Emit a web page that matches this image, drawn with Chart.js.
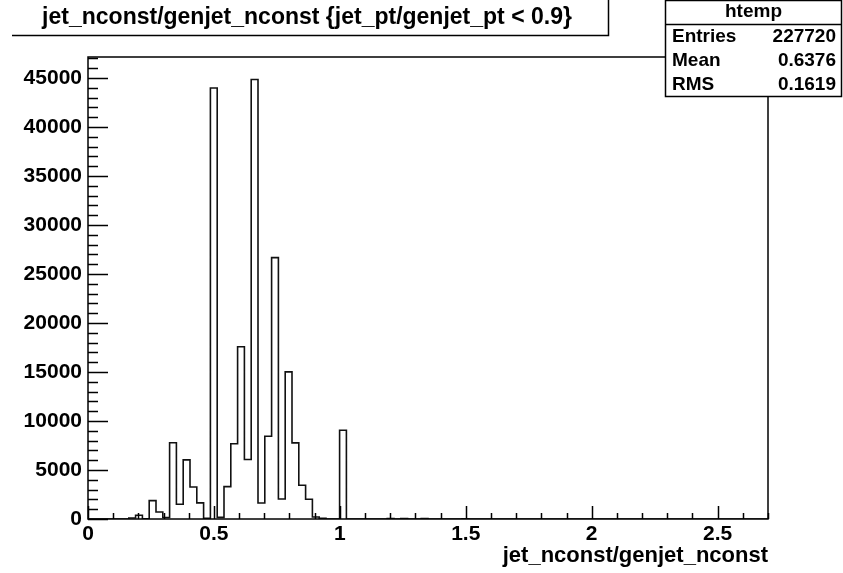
<!DOCTYPE html>
<html>
<head>
<meta charset="utf-8">
<script src="https://cdn.jsdelivr.net/npm/chart.js@4.4.1/dist/chart.umd.min.js"></script>
<style>
  html, body { margin: 0; padding: 0; background: #fff; }
  #wrap { width: 843px; height: 573px; }
</style>
</head>
<body>
<div id="wrap"><canvas id="histChart" width="843" height="573"></canvas></div>
<script>
// htemp: 100 bins between binLow and binHigh
const binLow = 0;
const binHigh = 2.7;
const binCounts = [
    0, 0, 0, 0, 0, 0, 100, 380, 30, 1880,
    715, 150, 7780, 1500, 6030, 3270, 1650, 60, 43980, 170,
    3300, 7680, 17580, 6070, 44860, 1640, 8450, 26670, 2040, 15020,
    7770, 3440, 2010, 200, 60, 0, 0, 9060, 0, 0,
    0, 0, 0, 0, 40, 0, 40, 0, 0, 40,
    0, 0, 0, 0, 0, 30, 0, 0, 0, 0,
    0, 0, 0, 0, 0, 0, 0, 0, 0, 0,
    0, 0, 0, 0, 0, 0, 0, 0, 0, 0,
    0, 0, 0, 0, 0, 0, 0, 0, 0, 0,
    0, 0, 0, 0, 0, 0, 0, 0, 0, 0
];
const yMax = 47150;
const xTickLabels = [0, 0.5, 1, 1.5, 2, 2.5];
const yTickLabels = [0, 5000, 10000, 15000, 20000, 25000, 30000, 35000, 40000, 45000];
const histTitle = 'jet_nconst/genjet_nconst {jet_pt/genjet_pt < 0.9}';
const xAxisTitle = 'jet_nconst/genjet_nconst';
const statsName = 'htemp';
const statsLabels = ['Entries', 'Mean', 'RMS'];
const statsValues = ['227720', '0.6376', '0.1619'];

const FONT = '"Liberation Sans", Arial, Helvetica, sans-serif';
const binWidth = (binHigh - binLow) / binCounts.length;

// step outline: one point per low bin edge, plus the last high edge
const points = binCounts.map((c, i) => ({ x: binLow + i * binWidth, y: c }));
points.push({ x: binHigh, y: binCounts[binCounts.length - 1] });

// ROOT style frame, inner ticks, title pave and stats box
const rootFrame = {
    id: 'rootFrame',
    afterDraw(chart) {
        const ctx = chart.ctx;
        const a = chart.chartArea;
        const xs = chart.scales.x;
        const ys = chart.scales.y;
        ctx.save();
        ctx.strokeStyle = '#000';
        ctx.lineWidth = 1.5;
        ctx.strokeRect(a.left, a.top, a.right - a.left, a.bottom - a.top);

        // x ticks (major 0.5, minor 0.1)
        ctx.beginPath();
        for (let k = 0; k <= 27; k++) {
            const v = k / 10;
            const px = Math.round(xs.getPixelForValue(v)) + 0.5;
            const len = (k % 5 === 0) ? 13 : 6;
            ctx.moveTo(px, a.bottom);
            ctx.lineTo(px, a.bottom - len);
        }
        // y ticks (major 5000, minor 1000)
        for (let k = 0; k * 1000 <= yMax; k++) {
            const py = Math.round(ys.getPixelForValue(k * 1000)) + 0.5;
            const len = (k % 5 === 0) ? 20 : 10;
            ctx.moveTo(a.left, py);
            ctx.lineTo(a.left + len, py);
        }
        ctx.stroke();

        // title pave
        ctx.fillStyle = '#000';
        ctx.font = 'bold 23px ' + FONT;
        ctx.textAlign = 'center';
        ctx.textBaseline = 'middle';
        ctx.fillText(histTitle, 307, 18);
        ctx.beginPath();
        ctx.moveTo(12, 35.5);
        ctx.lineTo(608.5, 35.5);
        ctx.lineTo(608.5, 0);
        ctx.stroke();

        // stats box
        const bx = 665, by = 0, bw = 177, bh = 96;
        ctx.fillStyle = '#fff';
        ctx.fillRect(bx, by, bw, bh);
        ctx.beginPath();
        ctx.rect(bx + 0.5, by + 0.5, bw - 1, bh);
        ctx.moveTo(bx, 24.5);
        ctx.lineTo(bx + bw, 24.5);
        ctx.stroke();
        ctx.fillStyle = '#000';
        ctx.font = 'bold 19px ' + FONT;
        ctx.textAlign = 'center';
        ctx.fillText(statsName, bx + bw / 2, 12);
        statsLabels.forEach((lab, i) => {
            const y = 37 + i * 24;
            ctx.textAlign = 'left';
            ctx.fillText(lab, bx + 7, y);
            ctx.textAlign = 'right';
            ctx.fillText(statsValues[i], bx + bw - 6, y);
        });
        ctx.restore();
    }
};

const ctx = document.getElementById('histChart').getContext('2d');
const histChart = new Chart(ctx, {
    type: 'line',
    data: {
        datasets: [{
            data: points,
            stepped: 'before',
            borderColor: '#111',
            borderWidth: 1.6,
            pointRadius: 0,
            fill: false
        }]
    },
    options: {
        responsive: false,
        animation: false,
        devicePixelRatio: 1,
        layout: { padding: { left: 0, top: 57, right: 75, bottom: 0 } },
        plugins: {
            legend: { display: false },
            tooltip: { enabled: false }
        },
        scales: {
            x: {
                type: 'linear',
                min: binLow,
                max: binHigh,
                afterBuildTicks: s => { s.ticks = xTickLabels.map(v => ({ value: v })); },
                afterFit: s => { s.height = 54; },
                grid: { display: false, drawTicks: false },
                border: { display: false },
                ticks: {
                    autoSkip: false,
                    maxRotation: 0,
                    padding: 3,
                    color: '#000',
                    font: { family: FONT, size: 21, weight: 'bold' },
                    callback: v => String(v)
                },
                title: {
                    display: true,
                    text: xAxisTitle,
                    align: 'end',
                    color: '#000',
                    font: { family: FONT, size: 22, weight: 'bold' },
                    padding: { top: 0, bottom: 4 }
                }
            },
            y: {
                type: 'linear',
                min: 0,
                max: yMax,
                afterBuildTicks: s => { s.ticks = yTickLabels.map(v => ({ value: v })); },
                afterFit: s => { s.width = 88; },
                grid: { display: false, drawTicks: false },
                border: { display: false },
                ticks: {
                    padding: 6,
                    color: '#000',
                    font: { family: FONT, size: 21, weight: 'bold' },
                    callback: v => String(v)
                }
            }
        }
    },
    plugins: [rootFrame]
});
</script>
</body>
</html>
